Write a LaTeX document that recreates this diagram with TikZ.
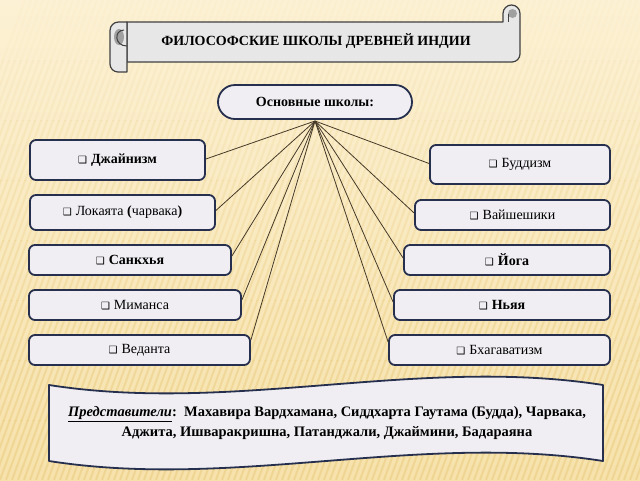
\documentclass[tikz,border=0pt]{standalone}
\usepackage{fontspec}
\setmainfont{Liberation Serif}
\newfontfamily\symfont{DejaVu Sans}
\definecolor{bgtop}{RGB}{252,241,212}
\definecolor{bgbot}{RGB}{247,226,172}
\definecolor{stripecol}{RGB}{234,204,128}
\definecolor{navy}{RGB}{38,48,78}
\definecolor{boxfill}{RGB}{240,238,243}
\definecolor{scrollfill}{RGB}{231,231,231}
\definecolor{scrolldark}{RGB}{160,160,160}
\definecolor{linkcol}{RGB}{70,58,40}
\newcommand{\chk}{{\symfont\fontsize{10}{10}\selectfont ❑}\hspace{4pt}}
\begin{document}
\begin{tikzpicture}[x=1pt,y=-1pt,
  school/.style={draw=navy, line width=1.8pt, fill=boxfill, rounded corners=6pt,
    inner sep=0pt, font=\fontsize{14}{16}\selectfont},
  schoolb/.style={school, font=\fontsize{14}{16}\selectfont\bfseries},
  link/.style={draw=linkcol, line width=0.8pt},
  scroll/.style={draw=black!75, line width=1.2pt, fill=scrollfill, line join=round},
  stripe/.style={draw=stripecol, line width=2pt}]
\useasboundingbox (0,0) rectangle (640,480);
% background
\shade[top color=bgtop, bottom color=bgbot] (0,0) rectangle (640,480);
\foreach \b/\op in {0/0.05,1/0.12,2/0.2,3/0.28,4/0.36,5/0.44,6/0.5,7/0.55} {
  \begin{scope}
    \clip (0,{60*\b}) rectangle (640,{60*\b+60});
    \foreach \s in {-150,-144,...,640} {
      \draw[stripe, opacity=\op] (\s,480) -- (\s+175,0);
    }
  \end{scope}
}
% title scroll
\draw[scroll] (127,22) -- (503,22) -- (503,13.5)
  .. controls (503,8.8) and (506.8,5) .. (511.5,5)
  .. controls (516.2,5) and (520,8.8) .. (520,13.5)
  -- (520,54) .. controls (520,58.4) and (516.4,62) .. (512,62)
  -- (127,62) -- cycle;
\fill[scrolldark] (512.5,13.5) circle (4.5);
\draw[black!75, line width=1pt] (508,13.5) -- (508,22);
\draw[scroll] (127,22) -- (118.5,22)
  .. controls (113.8,22) and (110,25.8) .. (110,30.5)
  -- (110,64) .. controls (110,68.4) and (113.6,72) .. (118,72)
  -- (127,72) -- cycle;
\fill[scrolldark] (119,37) ellipse [x radius=5, y radius=8];
\draw[black!75, line width=1pt] (124,30) .. controls (114,30) and (114,46) .. (127,46);
\node[font=\bfseries\fontsize{14}{16}\selectfont] (title) at (316,41) {ФИЛОСОФСКИЕ ШКОЛЫ ДРЕВНЕЙ ИНДИИ};
% main node
\node[draw=navy, line width=1.8pt, fill=boxfill, rounded corners=17pt,
  minimum width=194pt, minimum height=34pt, inner sep=0pt,
  font=\bfseries\fontsize{14}{16}\selectfont] (main) at (315,102) {Основные школы:};
% left schools
\node[schoolb, minimum width=175pt, minimum height=40pt] (jain) at (117.5,160) {\chk Джайнизм};
\node[school, minimum width=185pt, minimum height=35pt] (lok) at (122.5,212.5) {\chk Локаята {\bfseries(}чарвака{\bfseries)}};
\node[schoolb, minimum width=202pt, minimum height=30pt] (sank) at (130,260) {\chk Санкхья};
\node[school, minimum width=212pt, minimum height=30pt] (mim) at (135,305) {\chk Миманса};
\node[school, minimum width=221pt, minimum height=30pt] (ved) at (139.5,350) {\chk Веданта};
% right schools
\node[school, minimum width=180pt, minimum height=39pt] (bud) at (520,164.5) {\chk Буддизм};
\node[school, minimum width=195pt, minimum height=30pt] (vai) at (512.5,215) {\chk Вайшешики};
\node[schoolb, minimum width=206pt, minimum height=30pt] (yoga) at (507,260) {\chk Йога};
\node[schoolb, minimum width=216pt, minimum height=30pt] (nya) at (502,305) {\chk Ньяя};
\node[school, minimum width=221pt, minimum height=30pt] (bha) at (499.5,350) {\chk Бхагаватизм};
% connectors
\coordinate (hub) at (315,121);
\draw[link] (hub) -- ([yshift=1pt]jain.east);
\draw[link] (hub) -- ([yshift=2pt]lok.east);
\draw[link] (hub) -- ([yshift=4pt]sank.east);
\draw[link] (hub) -- ([yshift=5pt]mim.east);
\draw[link] (hub) -- ([yshift=10pt]ved.east);
\draw[link] (hub) -- ([yshift=1pt]bud.west);
\draw[link] (hub) -- ([yshift=2pt]vai.west);
\draw[link] (hub) -- ([yshift=2pt]yoga.west);
\draw[link] (hub) -- ([yshift=3pt]nya.west);
\draw[link] (hub) -- ([yshift=8pt]bha.west);
% bottom wave banner
\draw[draw=navy, line width=1.8pt, fill=boxfill, line join=round]
  (49,385) .. controls (234,414) and (418,356) .. (603,385)
  -- (603,461) .. controls (418,432) and (234,490) .. (49,461) -- cycle;
\node[align=center, font=\bfseries\fontsize{14.5}{20}\selectfont] (reps) at (327,423)
  {\underline{\itshape Представители}:\ \ Махавира Вардхамана, Сиддхарта Гаутама (Будда), Чарвака,\\
   Аджита, Ишваракришна, Патанджали, Джаймини, Бадараяна};
\end{tikzpicture}
\end{document}
